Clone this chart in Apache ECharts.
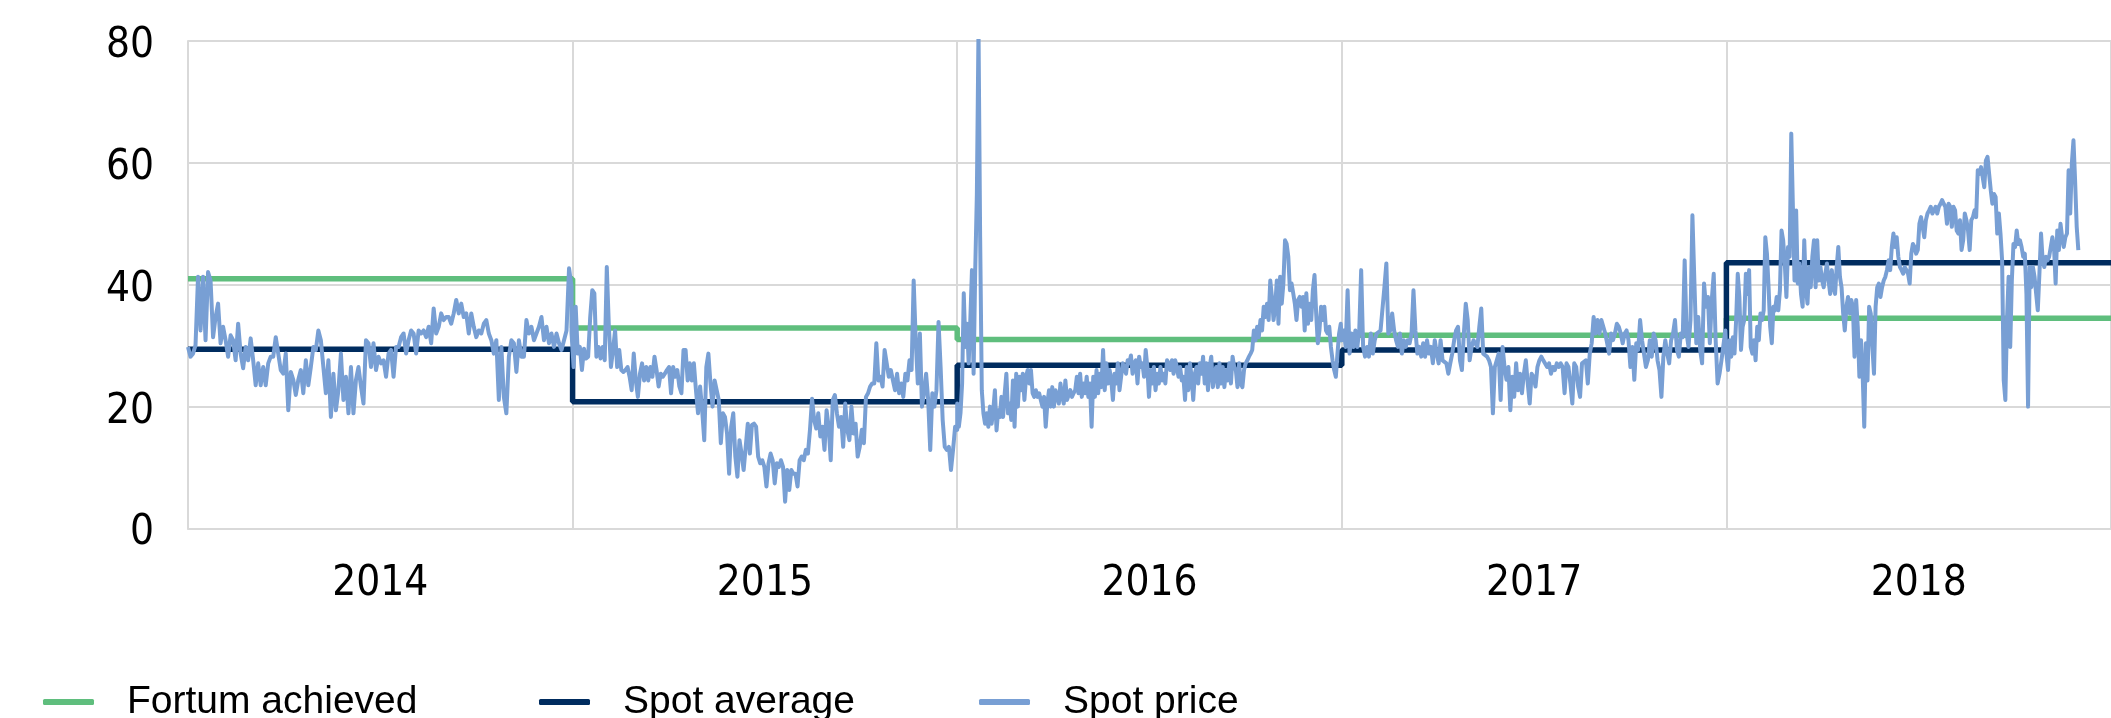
<!DOCTYPE html>
<html>
<head>
<meta charset="utf-8">
<title>Spot price vs Fortum achieved</title>
<script src="https://cdn.jsdelivr.net/npm/echarts@6/dist/echarts.min.js"></script>
<style>
  html, body { margin: 0; background: #fff; }
  #c { width: 2111px; height: 718px; }
</style>
</head>
<body>
<div id="c"></div>
<script>
const years = ['2014', '2015', '2016', '2017', '2018'];

// yearly levels, EUR/MWh
const fortumAchieved = [41.0, 32.9, 31.0, 31.7, 34.5];
const spotAverage = [29.4, 20.8, 26.8, 29.3, 43.6];

// spot price, evenly spaced inside each year
const spot2014 = [29.8,28.2,28.7,30.1,41.3,32.5,41.3,30.9,42.1,40.7,31.4,34.7,36.9,30.4,33.1,30.9,28.2,31.7,30.9,27.6,33.6,28.7,26.3,29.8,27.6,31.2,27.6,23.5,27.1,23.5,26.5,23.5,27.1,28.2,28.2,31.4,28.7,26.0,25.4,28.7,19.4,25.7,24.4,21.9,24.4,26.0,22.2,27.6,23.5,26.5,29.8,29.3,32.5,30.9,26.5,22.2,27.6,18.3,25.4,19.4,22.7,28.7,21.1,24.9,18.9,26.5,18.9,24.4,26.5,23.3,20.5,30.9,30.4,26.5,30.4,26.0,28.2,27.1,27.6,24.9,28.7,29.3,24.9,29.8,29.8,31.4,32.0,28.7,30.9,32.5,32.0,28.7,32.5,32.0,32.5,31.4,33.1,30.4,36.1,32.0,33.1,35.3,34.2,34.7,34.7,33.6,35.3,37.5,35.3,36.9,34.7,35.3,32.0,35.3,33.1,31.4,32.5,32.0,33.6,34.2,32.0,30.9,28.7,30.9,21.1,29.8,21.6,18.9,28.2,30.9,30.4,25.7,30.9,28.2,28.2,34.2,32.0,33.1,30.9,32.0,33.1,34.7,30.9,33.1,30.4,32.0,29.8,32.0,30.4,29.3,30.9,32.5,42.7,39.7];
const spot2015 = [32.0,26.5,36.4,28.7,29.8,26.0,29.5,27.9,28.2,34.7,39.1,38.6,28.2,29.8,27.9,29.8,27.6,42.9,33.1,26.5,29.3,32.5,26.5,29.3,26.0,25.7,26.0,26.5,24.9,22.7,28.7,24.3,21.6,25.4,27.1,24.3,26.5,24.3,26.5,24.9,28.2,26.0,23.3,25.4,24.9,25.4,26.0,26.5,22.2,26.5,24.9,26.0,23.3,22.2,29.3,29.3,24.3,27.1,24.3,27.1,22.7,18.9,23.3,19.4,14.5,26.5,28.7,23.8,20.0,24.3,22.7,21.1,14.0,18.9,18.3,15.6,9.0,16.7,18.9,11.8,8.5,14.5,12.3,9.6,13.4,17.2,12.3,17.0,17.2,16.7,11.8,10.7,11.2,10.1,6.9,10.7,12.3,11.2,7.4,10.7,10.1,11.2,10.1,4.4,9.6,6.3,9.6,9.0,9.0,6.9,11.2,11.8,11.2,12.9,12.3,16.2,21.3,17.8,16.4,18.9,15.1,16.7,12.9,19.4,16.7,11.2,21.1,21.9,18.9,16.7,18.3,13.4,20.5,16.2,14.5,20.0,15.6,17.2,11.8,13.4,16.2,14.0,21.6,22.2,23.3,23.8,23.8,30.4,24.3,24.9,23.3,29.3,27.1,24.9,26.0,24.3,22.7,25.4,22.2,23.8,21.6,25.4,24.3,27.6,26.0,40.7,30.9,23.8,32.0,20.0,22.2,25.4,21.1,12.9,22.2,20.0,22.7,33.9,26.5,17.8,13.4,12.9,13.4,9.6,12.9,16.7,16.2];
const spot2016 = [20.5,16.7,18.9,23.8,38.6,29.8,33.6,27.1,34.2,42.4,25.4,42.4,54.9,82,47.8,22.7,18.9,17.2,18.9,16.7,20.0,17.2,19.4,22.7,16.1,19.4,18.3,21.6,18.3,22.2,25.4,18.9,20.5,17.8,24.3,16.7,25.4,20.0,24.9,22.7,25.4,21.1,24.9,26.0,23.8,26.0,22.2,21.6,22.7,21.6,22.2,21.1,20.0,21.6,16.7,20.5,22.7,20.0,23.2,20.0,22.7,21.6,20.5,23.8,21.6,20.5,24.3,21.1,21.1,22.7,21.6,22.2,22.7,24.9,22.2,25.4,21.6,23.8,22.2,24.9,21.6,23.8,16.7,24.9,21.6,26.0,22.2,25.4,23.2,29.3,22.7,27.1,23.8,26.0,24.3,21.1,25.4,23.8,27.1,22.7,24.9,27.1,27.1,25.4,27.6,27.1,28.4,25.4,27.1,27.6,23.8,28.2,26.5,27.1,24.9,29.3,26.5,21.6,26.0,23.8,26.5,22.7,25.4,23.8,26.5,24.3,25.4,23.8,27.6,27.1,26.0,27.6,25.4,27.6,26.5,24.9,26.5,24.3,24.9,21.1,26.5,22.7,27.1,24.9,21.1,25.4,26.5,23.8,27.1,25.4,28.2,23.8,27.1,22.7,26.5,28.2,23.2,25.4,26.5,23.2,27.1,23.8,26.5,23.2,26.0,24.3,27.1,23.8,28.2,26.5,26.0,23.2,27.1,23.8,23.2,26.0,27.1,27.6,28.2,28.7,29.3,32.5,30.9,33.1,31.4,34.2,32.5,36.4,34.7,36.9,34.2,40.7,38.0,34.2,36.4,40.7,33.6,41.3,36.9,40.2,47.3,46.7,44.6,39.1,40.2,38.6,36.9,34.2,37.5,38.0,36.4,38.0,32.5,38.6,33.6,36.9,34.2,39.1,41.6,35.3,30.4,32.5,36.4,34.2,36.4,32.5,32.0,33.1,29.8,27.6,26.0,24.9,28.7,32.0,33.6];
const spot2017 = [30.9,32.5,29.8,39.1,28.7,32.0,29.8,32.5,29.8,32.5,42.4,29.8,28.2,29.8,28.2,32.0,28.7,30.9,32.0,32.0,32.5,32.5,39.6,43.5,32.0,32.5,35.3,32.5,30.9,29.8,32.0,28.7,30.9,29.8,30.9,30.4,32.0,39.1,32.5,28.7,29.8,28.2,30.4,28.2,30.9,28.7,29.8,27.1,30.9,28.7,27.1,30.9,27.6,27.6,27.1,25.4,27.1,28.7,30.9,32.5,33.1,27.6,26.0,32.0,36.9,34.2,27.6,29.8,30.9,30.9,29.8,33.1,36.1,28.7,28.7,28.2,27.6,26.5,18.9,26.5,26.5,28.7,21.1,29.8,26.5,24.4,26.5,19.4,24.9,21.6,27.1,22.7,25.4,22.2,25.4,27.6,23.8,20.5,25.4,24.9,23.3,26.5,27.6,28.2,27.6,27.6,26.5,27.1,25.4,26.5,26.0,27.1,26.5,27.1,26.5,22.2,27.1,26.5,23.8,20.5,27.1,26.5,23.3,21.6,27.1,27.1,27.6,23.8,28.7,30.4,34.7,32.0,34.2,32.0,34.2,33.1,32.0,30.4,28.7,32.0,30.9,32.0,33.6,33.1,32.0,30.4,32.0,32.5,30.9,26.5,29.8,24.4,30.4,29.3,34.2,30.9,28.7,26.5,27.6,30.9,28.2,32.0,30.9,27.6,26.0,21.6,28.2,30.9,28.7,27.1,30.9,32.0,34.2,29.3,28.2,32.0,31.4,44.0,32.0,29.8,34.2,51.4,40.7,30.4,34.7,29.3,27.1,40.2,36.4,38.0,30.4,37.5,41.8,30.9,23.8,25.4,27.6,27.6,32.5];
const spot2018 = [28.7,26.0,30.9,28.2,31.4,28.7,34.2,41.8,38.0,29.3,33.1,34.2,41.8,38.5,42.4,29.8,28.7,30.9,27.6,33.1,30.9,35.3,34.2,35.8,47.8,45.1,39.6,33.1,30.4,36.4,35.8,38.0,35.8,39.1,48.9,47.3,43.5,38.0,46.2,44.6,64.8,52.8,40.7,52.2,40.2,43.5,38.5,36.4,47.3,39.6,36.9,42.9,39.6,44.6,47.3,39.6,47.3,40.7,42.9,40.7,39.6,41.8,43.5,40.7,38.5,42.4,39.6,38.5,42.9,46.2,41.3,39.6,35.3,32.5,36.4,38.0,35.3,37.5,36.4,28.2,37.5,33.1,24.9,30.9,25.4,16.7,30.4,24.3,36.4,35.3,29.8,25.4,36.4,39.6,40.2,38.0,39.6,40.7,41.3,42.4,44.0,42.4,46.2,48.4,46.2,47.8,44.6,42.9,42.4,41.8,42.9,42.4,41.8,40.2,45.1,46.7,46.2,45.1,45.7,50.0,51.1,49.5,47.8,50.6,51.7,52.2,52.8,51.7,52.2,52.8,51.7,52.8,53.3,53.9,53.3,52.8,50.0,53.3,52.8,49.5,52.8,52.2,48.9,48.4,50.6,45.7,47.3,51.7,50.6,48.9,45.7,50.6,51.1,52.2,51.1,58.8,58.2,59.3,57.7,56.0,60.4,61.0,58.2,55.5,53.3,54.9,54.4,48.4,51.7,48.4,44.0,24.3,21.1,34.2,41.3,29.8,40.7,46.7,46.2,48.9,46.7,47.3,46.2,44.6,45.1,38.5,20.0,42.9,39.6,42.9,41.3,38.5,35.8,41.8,48.4,44.0,42.9,44.6,44.0,44.6,46.2,47.8,46.2,40.2,48.9,45.7,50.0,47.8,46.2,47.8,48.4,58.8,51.7,59.9,63.7,57.1,49.5,45.7];

const spotByYear = [spot2014, spot2015, spot2016, spot2017, spot2018];
const spotFirstDay = [0, -1, 0, 0, 0];
const spotLastDay = [364, 365, 365, 364, 334];

// x is measured in years, 2014.0 = 1 Jan 2014
function yearLevels(vals) {
    const pts = vals.map((v, i) => [2014 + i, v]);
    pts.push([2014 + vals.length, vals[vals.length - 1]]);
    return pts;
}

function spotPoints() {
    const out = [];
    spotByYear.forEach((vals, k) => {
        const y = 2014 + k;
        const len = (y % 4 === 0) ? 366 : 365;
        const d0 = spotFirstDay[k], d1 = spotLastDay[k];
        vals.forEach((v, i) => {
            out.push([y + (d0 + (d1 - d0) * i / (vals.length - 1)) / len, v]);
        });
    });
    return out;
}

const numFont = '"Liberation Sans Narrow", "DejaVu Sans Condensed", sans-serif';
const textFont = '"Liberation Sans", Arial, sans-serif';
const gridGrey = '#d9d9d9';

const legendBase = {
    top: 682,
    padding: 0,
    icon: 'roundRect',
    itemWidth: 51,
    itemHeight: 6,
    selectedMode: false,
    textStyle: { fontFamily: textFont, fontSize: 39, color: '#000', lineHeight: 40, padding: [0, 0, 0, 28] }
};

const chart = echarts.init(document.getElementById('c'), null, { renderer: 'canvas' });
chart.setOption({
    animation: false,
    backgroundColor: '#fff',
    grid: { left: 188, top: 41, width: 1957, height: 487.5 },
    xAxis: [
        {
            type: 'value', min: 2014, max: 2019, interval: 1,
            axisLabel: { show: false }, axisTick: { show: false },
            axisLine: { show: true, lineStyle: { color: gridGrey, width: 2 } },
            splitLine: { show: true, lineStyle: { color: gridGrey, width: 2 } }
        },
        {
            type: 'category', data: years, position: 'bottom', boundaryGap: true,
            axisLine: { show: false }, axisTick: { show: false }, splitLine: { show: false },
            axisLabel: { fontFamily: numFont, fontSize: 42, lineHeight: 42, color: '#000', margin: 35 }
        }
    ],
    yAxis: {
        type: 'value', min: 0, max: 80, interval: 20,
        axisLine: { show: true, lineStyle: { color: gridGrey, width: 2 } },
        axisTick: { show: false },
        splitLine: { lineStyle: { color: gridGrey, width: 2 } },
        axisLabel: {
            margin: 34,
            formatter: '{n|{value}}',
            rich: { n: { fontFamily: numFont, fontSize: 42, lineHeight: 42, color: '#000', padding: [10, 0, 0, 0] } }
        }
    },
    legend: [
        Object.assign({ left: 43, data: ['Fortum achieved'] }, legendBase),
        Object.assign({ left: 539, data: ['Spot average'] }, legendBase),
        Object.assign({ left: 979, data: ['Spot price'] }, legendBase)
    ],
    series: [
        {
            name: 'Fortum achieved', type: 'line', step: 'end', xAxisIndex: 0,
            data: yearLevels(fortumAchieved), symbol: 'none',
            itemStyle: { color: '#5fbe7d' },
            lineStyle: { color: '#5fbe7d', width: 5.5 }
        },
        {
            name: 'Spot average', type: 'line', step: 'end', xAxisIndex: 0,
            data: yearLevels(spotAverage), symbol: 'none',
            itemStyle: { color: '#002c5f' },
            lineStyle: { color: '#002c5f', width: 5.5 }
        },
        {
            name: 'Spot price', type: 'line', xAxisIndex: 0,
            data: spotPoints(), symbol: 'none',
            itemStyle: { color: '#789fd4' },
            lineStyle: { color: '#789fd4', width: 4, join: 'round' }
        }
    ]
});
</script>
</body>
</html>
